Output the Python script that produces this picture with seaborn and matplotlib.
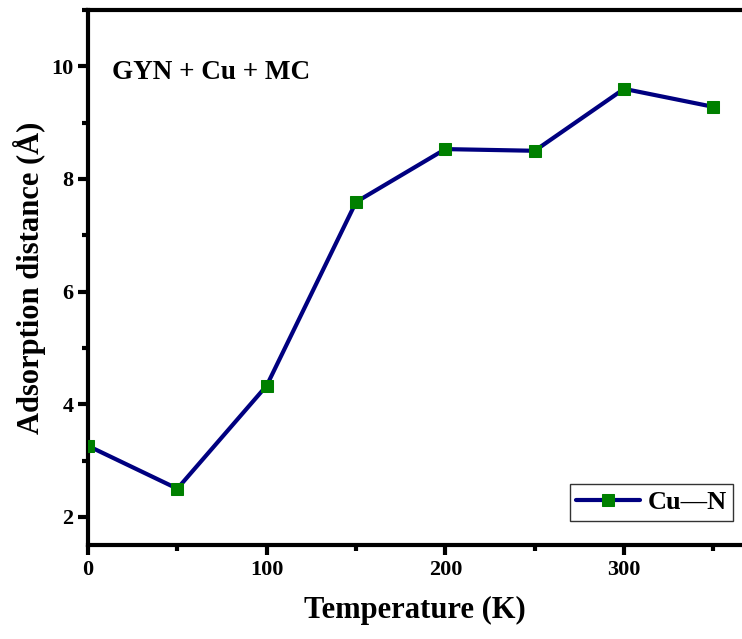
import matplotlib
matplotlib.use('Agg')
import matplotlib.pyplot as plt
import seaborn as sns
import pandas as pd
from matplotlib.ticker import MultipleLocator

temperature = [0, 50, 100, 150, 200, 250, 300, 350]
distance = [3.26, 2.50, 4.33, 7.59, 8.53, 8.50, 9.60, 9.28]

sns.set_theme(style='white')
plt.rcParams['font.family'] = ['Liberation Serif', 'DejaVu Serif']
plt.rcParams['font.weight'] = 'bold'
plt.rcParams['text.color'] = 'black'
plt.rcParams['axes.labelcolor'] = 'black'
plt.rcParams['xtick.color'] = 'black'
plt.rcParams['ytick.color'] = 'black'

df = pd.DataFrame({'Temperature': temperature, 'Distance': distance})

fig = plt.figure(figsize=(7.42, 6.39), dpi=100)
ax = fig.add_axes([88 / 742, 94 / 639, 654 / 742, 535 / 639])

sns.lineplot(data=df, x='Temperature', y='Distance', ax=ax, color='#000080',
             linewidth=3, marker='s', markersize=9, markerfacecolor='green',
             markeredgecolor='green', label='Cu\u2014N', zorder=3)

ax.set_xlim(0, 366)
ax.set_ylim(1.5, 11)
ax.xaxis.set_major_locator(MultipleLocator(100))
ax.xaxis.set_minor_locator(MultipleLocator(50))
ax.yaxis.set_major_locator(MultipleLocator(2))
ax.yaxis.set_minor_locator(MultipleLocator(1))
ax.tick_params(which='major', direction='out', length=7, width=3, labelsize=16,
               bottom=True, left=True, top=False, right=False)
ax.tick_params(which='minor', direction='out', length=4, width=3,
               bottom=True, left=True, top=False, right=False)
for lab in ax.get_xticklabels() + ax.get_yticklabels():
    lab.set_fontweight('bold')

for s in ['left', 'bottom', 'top']:
    ax.spines[s].set_linewidth(3)
    ax.spines[s].set_color('black')
ax.spines['right'].set_visible(False)

ax.set_xlabel('Temperature (K)', fontsize=22, fontweight='bold', labelpad=12)
ax.set_ylabel('Adsorption distance (\u00c5)', fontsize=22, fontweight='bold', labelpad=4)

ax.text(0.037, 0.884, 'GYN + Cu + MC', transform=ax.transAxes, fontsize=19.5,
        fontweight='bold', va='center')

leg = ax.legend(loc='lower right', bbox_to_anchor=(0.995, 0.035), fontsize=19,
                frameon=True, fancybox=False, edgecolor='black',
                handlelength=2.4, borderpad=0.25, handletextpad=0.3,
                borderaxespad=0.2)
leg.get_frame().set_linewidth(1)
for t in leg.get_texts():
    t.set_fontweight('bold')

fig.savefig('out.png', dpi=100)
